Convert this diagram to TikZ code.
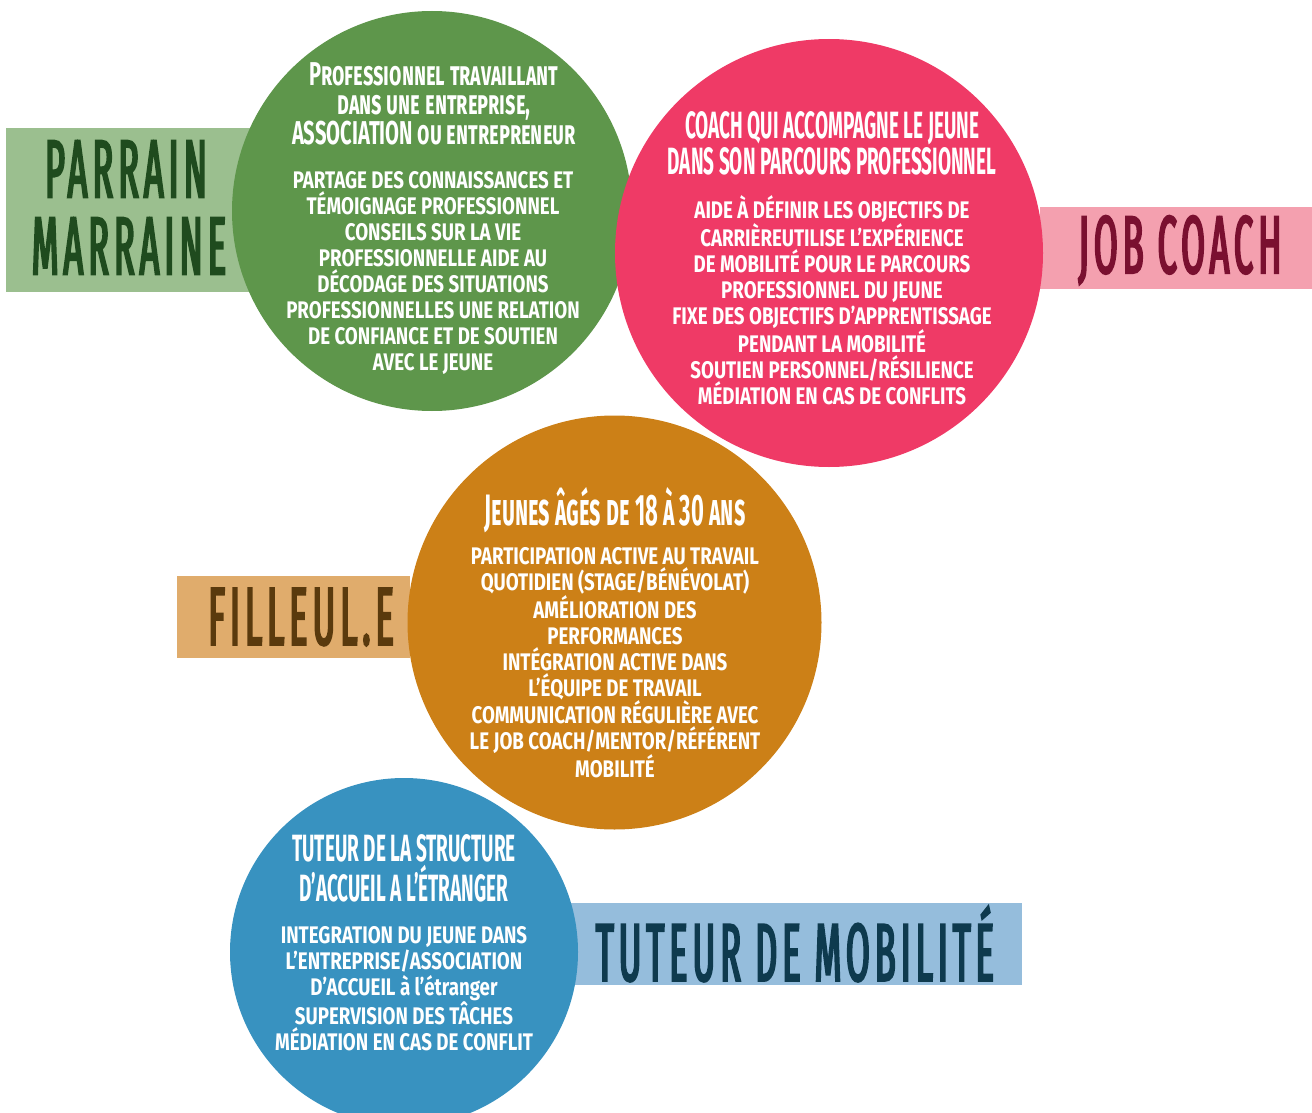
\documentclass[tikz,border=0pt]{standalone}
\usepackage{fontspec}
\setmainfont{Fira Sans}
\newfontfamily\corpsfont[FakeStretch=0.78]{Fira Sans}
\newfontfamily\entetefont[FakeStretch=0.5]{Fira Sans}
\newfontfamily\largeentetefont[FakeStretch=0.61]{Fira Sans}
\newfontfamily\nomfont[FakeStretch=0.42,LetterSpace=6,FakeBold=2.5]{Fira Sans}

\definecolor{vert}{HTML}{5E964B}
\definecolor{vertclair}{HTML}{9BBF8F}
\definecolor{vertfonce}{HTML}{1F4B1E}
\definecolor{rose}{HTML}{EF3A66}
\definecolor{roseclair}{HTML}{F4A0AF}
\definecolor{bordeaux}{HTML}{7A1030}
\definecolor{ocre}{HTML}{CC8017}
\definecolor{ocreclair}{HTML}{E0AC6C}
\definecolor{brun}{HTML}{5A3A0D}
\definecolor{bleu}{HTML}{3892C0}
\definecolor{bleuclair}{HTML}{95BDDC}
\definecolor{marine}{HTML}{0E3A4E}

\begin{document}
\begin{tikzpicture}[x=1pt,y=-1pt,
        bulle/.style={circle,inner sep=0pt},
        bande/.style={rectangle,inner sep=0pt},
        nom/.style={inner sep=0pt,font=\nomfont\fontsize{82}{82}\selectfont},
        entete/.style={text=white,align=center,inner sep=0pt,font=\entetefont\bfseries\fontsize{38}{36}\selectfont},
        corps/.style={text=white,align=center,inner sep=0pt,font=\corpsfont\bfseries\fontsize{24}{26}\selectfont}]

        \clip (0,0) rectangle (1312,1113);
        \useasboundingbox (0,0) rectangle (1312,1113);

        %BANDES
        \node[bande,fill=vertclair,minimum width=244,minimum height=164] (parrainbox) at (128,210) {};
        \node[bande,fill=roseclair,minimum width=272,minimum height=82] (coachbox) at (1176,248) {};
        \node[bande,fill=ocreclair,minimum width=233,minimum height=82] (filleulbox) at (293.5,617) {};
        \node[bande,fill=bleuclair,minimum width=452,minimum height=82] (tuteurbox) at (796,944) {};

        %BULLES
        \node[bulle,fill=vert,minimum size=400] (parrain) at (432,211) {};
        \node[bulle,fill=rose,minimum size=428] (coach) at (829,253) {};
        \node[bulle,fill=ocre,minimum size=414] (filleul) at (614.5,622.5) {};
        \node[bulle,fill=bleu,minimum size=348] (tuteur) at (404,952) {};

        %NOMS
        \node[nom,text=vertfonce] (parrainnom) at (126,169) {PARRAIN};
        \node[nom,text=vertfonce] (marrainenom) at (129,246) {MARRAINE};
        \node[nom,text=bordeaux] (coachnom) at (1180,250) {JOB COACH};
        \node[nom,text=brun] (filleulnom) at (301,617) {FILLEUL.E};
        \node[nom,text=marine] (tuteurnom) at (795,944) {TUTEUR DE MOBILITÉ};

        %PARRAIN
        \node[entete,font=\largeentetefont\bfseries\fontsize{33}{29}\selectfont] (parrainentete) at (434,104)
            {\textsc{Professionnel travaillant}\\\textsc{dans une entreprise,}\\\textsc{ASSOCIATION ou entrepreneur}};
        \node[corps] (parraincorps) at (433,273)
            {PARTAGE DES CONNAISSANCES ET\\TÉMOIGNAGE PROFESSIONNEL\\CONSEILS SUR LA VIE\\PROFESSIONNELLE AIDE AU\\DÉCODAGE DES SITUATIONS\\PROFESSIONNELLES UNE RELATION\\DE CONFIANCE ET DE SOUTIEN\\AVEC LE JEUNE};

        %JOB COACH
        \node[entete] (coachentete) at (832,143)
            {COACH QUI ACCOMPAGNE LE JEUNE\\DANS SON PARCOURS PROFESSIONNEL};
        \node[corps] (coachcorps) at (832,300)
            {AIDE À DÉFINIR LES OBJECTIFS DE\\CARRIÈREUTILISE L’EXPÉRIENCE\\DE MOBILITÉ POUR LE PARCOURS\\PROFESSIONNEL DU JEUNE\\FIXE DES OBJECTIFS D’APPRENTISSAGE\\PENDANT LA MOBILITÉ\\SOUTIEN PERSONNEL/RÉSILIENCE\\MÉDIATION EN CAS DE CONFLITS};

        %FILLEUL
        \node[entete,font=\entetefont\bfseries\fontsize{44}{36}\selectfont] (filleulentete) at (615,510) {\textsc{Jeunes âgés de 18 à 30 ans}};
        \node[corps] (filleulcorps) at (615,663)
            {PARTICIPATION ACTIVE AU TRAVAIL\\QUOTIDIEN (STAGE/BÉNÉVOLAT)\\AMÉLIORATION DES\\PERFORMANCES\\INTÉGRATION ACTIVE DANS\\L’ÉQUIPE DE TRAVAIL\\COMMUNICATION RÉGULIÈRE AVEC\\LE JOB COACH/MENTOR/RÉFÉRENT\\MOBILITÉ};

        %TUTEUR
        \node[entete,font=\entetefont\bfseries\fontsize{38}{40}\selectfont] (tuteurentete) at (404,868)
            {TUTEUR DE LA STRUCTURE\\D’ACCUEIL A L’ÉTRANGER};
        \node[corps] (tuteurcorps) at (404,989)
            {INTEGRATION DU JEUNE DANS\\L’ENTREPRISE/ASSOCIATION\\D’ACCUEIL à l’étranger\\SUPERVISION DES TÂCHES\\MÉDIATION EN CAS DE CONFLIT};
    \end{tikzpicture}
\end{document}
